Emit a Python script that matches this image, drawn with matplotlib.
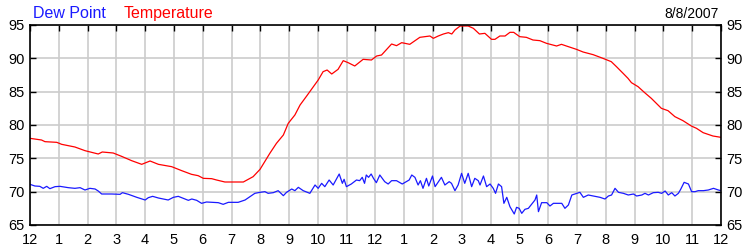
import numpy as np
import matplotlib
matplotlib.use("Agg")
import matplotlib.pyplot as plt

plt.rcParams["font.family"] = ["Liberation Sans", "DejaVu Sans"]

# hours since midnight
temp_hours = [0.0, 0.4, 0.52, 0.93, 1.1, 1.56, 1.91, 2.37, 2.51, 2.89, 3.18, 3.53,
              3.88, 4.17, 4.46, 4.92, 5.27, 5.61, 5.84, 6.02, 6.31, 6.48, 6.77,
              7.41, 7.75, 7.99, 8.33, 8.56, 8.8, 8.97, 9.2, 9.38, 9.61, 10.01,
              10.18, 10.32, 10.48, 10.7, 10.88, 11.05, 11.28, 11.57, 11.86, 12.04,
              12.21, 12.56, 12.73, 12.91, 13.19, 13.54, 13.89, 14.01, 14.18, 14.36,
              14.53, 14.65, 14.76, 14.94, 15.22, 15.4, 15.61, 15.8, 16.03, 16.15,
              16.32, 16.5, 16.67, 16.8, 17.01, 17.24, 17.47, 17.71, 17.94, 18.29,
              18.46, 18.63, 18.98, 19.21, 19.56, 19.9, 20.19, 20.37, 20.6, 20.77,
              20.89, 21.12, 21.35, 21.58, 21.93, 22.16, 22.4, 22.68, 22.97, 23.15,
              23.38, 23.72, 24.0]
temp_values = [78.0, 77.75, 77.5, 77.4, 77.1, 76.7, 76.15, 75.65, 75.95, 75.8, 75.3, 74.65,
               74.1, 74.6, 74.1, 73.75, 73.15, 72.6, 72.4, 72.0, 71.95, 71.75, 71.45,
               71.45, 72.25, 73.35, 75.75, 77.25, 78.5, 80.25, 81.5, 83.0, 84.35, 86.75,
               88.0, 88.25, 87.65, 88.35, 89.65, 89.35, 88.85, 89.85, 89.75, 90.35,
               90.5, 92.15, 91.9, 92.35, 92.1, 93.15, 93.35, 93.0, 93.35, 93.65,
               93.85, 93.65, 94.25, 94.85, 94.85, 94.5, 93.65, 93.75, 92.85, 92.85,
               93.35, 93.35, 93.9, 93.9, 93.25, 93.15, 92.75, 92.65, 92.25, 91.85,
               92.1, 91.85, 91.35, 90.95, 90.55, 90.0, 89.5, 88.75, 87.75, 87.0,
               86.35, 85.75, 84.85, 84.0, 82.5, 82.15, 81.25, 80.65, 79.85, 79.5,
               78.85, 78.35, 78.15]

dew_hours = [0.0, 0.17, 0.34, 0.46, 0.58, 0.69, 0.87, 1.04, 1.33, 1.56, 1.74, 1.91,
             2.08, 2.26, 2.37, 2.49, 2.84, 3.13, 3.21, 3.42, 3.71, 4.0, 4.11, 4.26,
             4.46, 4.8, 4.98, 5.15, 5.32, 5.5, 5.62, 5.79, 5.96, 6.13, 6.31, 6.54,
             6.71, 6.89, 7.23, 7.47, 7.64, 7.81, 7.99, 8.16, 8.27, 8.45, 8.62, 8.8,
             8.91, 9.09, 9.2, 9.32, 9.49, 9.72, 9.9, 10.01, 10.13, 10.24, 10.39,
             10.53, 10.74, 10.85, 10.91, 10.99, 11.16, 11.34, 11.45, 11.54, 11.62,
             11.68, 11.76, 11.85, 11.93, 12.03, 12.15, 12.32, 12.44, 12.56, 12.73,
             12.93, 13.07, 13.17, 13.26, 13.37, 13.48, 13.56, 13.65, 13.77, 13.85,
             13.98, 14.07, 14.19, 14.29, 14.41, 14.56, 14.64, 14.76, 14.87, 14.99,
             15.1, 15.22, 15.34, 15.45, 15.57, 15.63, 15.75, 15.86, 15.98, 16.09,
             16.17, 16.27, 16.38, 16.46, 16.56, 16.67, 16.82, 16.9, 16.99, 17.08,
             17.19, 17.31, 17.43, 17.54, 17.6, 17.66, 17.77, 17.95, 18.06, 18.18,
             18.35, 18.47, 18.58, 18.7, 18.82, 18.99, 19.1, 19.22, 19.39, 19.57,
             19.8, 19.97, 20.09, 20.2, 20.32, 20.44, 20.61, 20.78, 20.96, 21.07,
             21.25, 21.36, 21.48, 21.65, 21.82, 21.94, 22.06, 22.17, 22.29, 22.4,
             22.52, 22.6, 22.72, 22.87, 22.98, 23.1, 23.21, 23.39, 23.56, 23.74,
             23.91, 24.0]
dew_values = [71.1, 70.85, 70.8, 70.5, 70.8, 70.45, 70.75, 70.8, 70.6, 70.5, 70.6, 70.25,
              70.5, 70.4, 70.1, 69.65, 69.65, 69.6, 69.85, 69.6, 69.15, 68.75, 69.1, 69.3,
              69.05, 68.75, 69.15, 69.3, 69.0, 68.7, 68.9, 68.7, 68.25, 68.45, 68.4, 68.35,
              68.1, 68.4, 68.4, 68.75, 69.25, 69.75, 69.9, 70.0, 69.75, 69.85, 70.15, 69.4,
              69.9, 70.4, 70.15, 70.65, 70.15, 69.75, 71.0, 70.5, 71.25, 70.75, 71.75,
              71.0, 72.65, 71.25, 71.85, 70.75, 71.15, 71.75, 71.65, 72.15, 71.25,
              72.5, 72.15, 72.65, 72.0, 71.35, 72.5, 71.5, 71.15, 71.65, 71.65,
              71.15, 71.5, 71.75, 72.5, 72.15, 71.0, 71.65, 70.5, 72.0, 70.85,
              72.35, 70.75, 71.5, 72.15, 71.0, 71.5, 71.25, 70.15, 71.0, 72.75,
              71.25, 72.75, 70.75, 72.0, 71.65, 71.0, 72.35, 70.75, 71.15, 70.5,
              69.75, 71.15, 70.75, 68.25, 69.15, 67.75, 66.65, 67.65, 67.5, 66.75,
              67.35, 67.5, 68.15, 68.75, 69.5, 67.0, 68.35, 68.35, 67.85, 68.25,
              68.25, 68.25, 67.5, 68.0, 69.5, 69.75, 69.9, 69.15, 69.5, 69.35,
              69.15, 68.9, 69.35, 69.5, 70.5, 69.9, 69.75, 69.5, 69.65, 69.35,
              69.5, 69.75, 69.5, 69.85, 69.9, 69.75, 70.1, 69.5, 69.85, 69.35,
              69.75, 70.35, 71.4, 71.15, 70.0, 70.0, 70.15, 70.15, 70.25, 70.5,
              70.25, 70.15]

hour_labels = ["12", "1", "2", "3", "4", "5", "6", "7", "8", "9", "10", "11",
               "12", "1", "2", "3", "4", "5", "6", "7", "8", "9", "10", "11", "12"]
y_ticks = [65, 70, 75, 80, 85, 90, 95]
date_text = "8/8/2007"

fig = plt.figure(figsize=(7.5, 2.5), dpi=100)
ax = fig.add_axes([0.04, 0.1, 0.9213, 0.8])

ax.plot(temp_hours, temp_values, color="#ff0000", lw=0.9)
ax.plot(dew_hours, dew_values, color="#1a1aff", lw=0.9)

ax.set_xlim(0, 24)
ax.set_ylim(65, 95)
ax.set_xticks(range(25))
ax.set_xticklabels(hour_labels)
ax.set_yticks(y_ticks)

ax.grid(True, color="#cccccc", lw=1.2)
ax.set_axisbelow(True)
for sp in ax.spines.values():
    sp.set_color("black")
    sp.set_linewidth(1.2)

ax.tick_params(axis="x", bottom=True, top=True, direction="in", length=4,
               width=1, labelsize=10.5, pad=6)
ax.tick_params(axis="x", which="major", bottom=False)
ax.tick_params(axis="y", left=True, right=True, labelright=True, direction="in",
               length=4, width=1, labelsize=10.5, pad=4)

fig.text(0.044, 0.945, "Dew Point", color="#1a1aff", fontsize=11.5, va="center")
fig.text(0.165, 0.945, "Temperature", color="#ff0000", fontsize=11.5, va="center")
fig.text(0.958, 0.945, date_text, color="black", fontsize=10, va="center", ha="right")

fig.savefig("out.png", dpi=100)
